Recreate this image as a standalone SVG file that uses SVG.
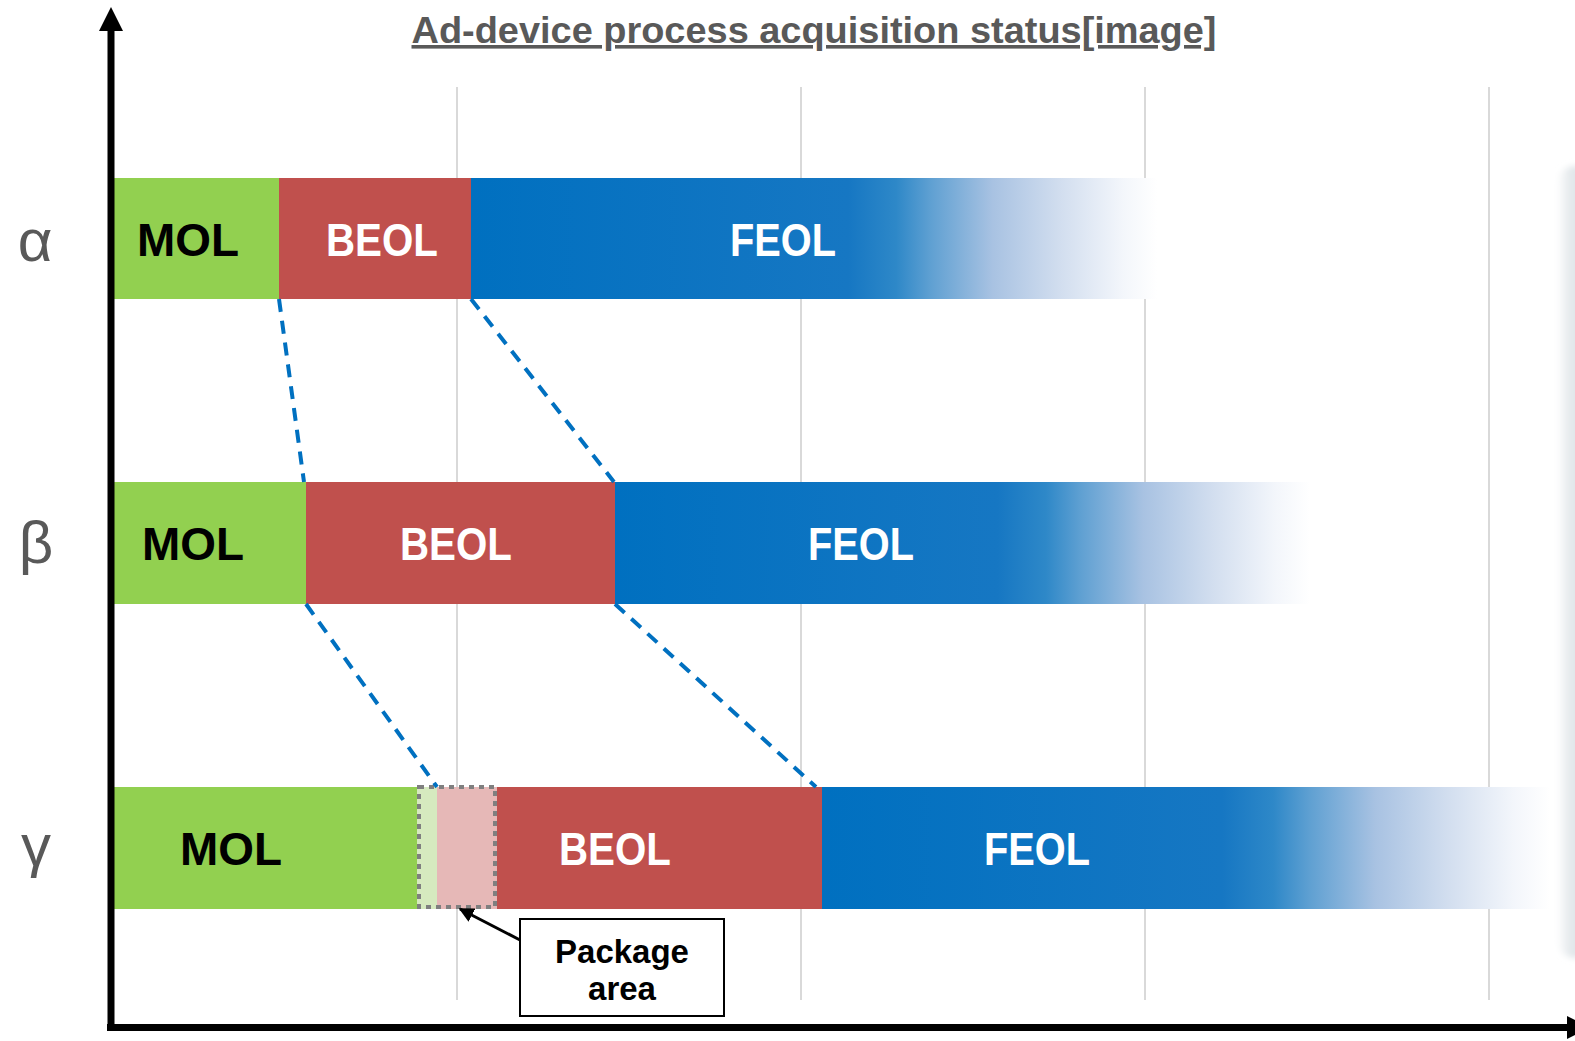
<svg xmlns="http://www.w3.org/2000/svg" width="1575" height="1041" viewBox="0 0 1575 1041">
  <style>
    .grid { stroke: #D9D9D9; stroke-width: 2; }
    .axis { stroke: #000; stroke-width: 7; fill: none; }
    .mol { fill: #92D050; }
    .beol { fill: #C0504D; }
    .lbl { font-family: "Liberation Sans", Arial, sans-serif; font-weight: bold; font-size: 47px; text-anchor: middle; }
    .dark { fill: #000; }
    .light { fill: #FFF; }
    .greek { font-family: "Liberation Sans", Arial, sans-serif; font-size: 60px; fill: #595959; text-anchor: middle; }
    .link { stroke: #0070C0; stroke-width: 4; stroke-dasharray: 13 9; fill: none; }
    .call { font-family: "Liberation Sans", Arial, sans-serif; font-weight: bold; font-size: 33px; text-anchor: middle; }
  </style>
  <defs>
    <linearGradient id="feol" x1="0" y1="0" x2="1" y2="0">
      <stop offset="0" stop-color="#0070C0"/>
      <stop offset="0.55" stop-color="#1677C3"/>
      <stop offset="0.62" stop-color="#2E88C8"/>
      <stop offset="0.67" stop-color="#5FA0D2"/>
      <stop offset="0.76" stop-color="#A8C2E2"/>
      <stop offset="0.86" stop-color="#D2DEEF"/>
      <stop offset="0.95" stop-color="#F3F6FB"/>
      <stop offset="1" stop-color="#FFFFFF"/>
    </linearGradient>
    <linearGradient id="edgeShade" x1="0" y1="0" x2="1" y2="0">
      <stop offset="0" stop-color="#FFFFFF"/>
      <stop offset="0.35" stop-color="#E3E8EB"/>
      <stop offset="1" stop-color="#D8DFE3"/>
    </linearGradient>
    <filter id="soft" x="-50%" y="-10%" width="200%" height="120%">
      <feGaussianBlur stdDeviation="3"/>
    </filter>
    <marker id="arrowHead" viewBox="0 0 10 10" refX="9" refY="5" markerWidth="5" markerHeight="5" orient="auto">
      <path d="M0,0 L10,5 L0,10 z" fill="#000"/>
    </marker>
  </defs>

  <rect width="1575" height="1041" fill="#FFFFFF"/>

  <!-- shaded edge of a panel at the right border -->
  <rect x="1557" y="166" width="40" height="792" rx="18" fill="url(#edgeShade)" filter="url(#soft)"/>

  <!-- vertical grid lines -->
  <g id="grid">
    <line class="grid" x1="457" y1="87" x2="457" y2="1000"/>
    <line class="grid" x1="801" y1="87" x2="801" y2="1000"/>
    <line class="grid" x1="1145" y1="87" x2="1145" y2="1000"/>
    <line class="grid" x1="1489" y1="87" x2="1489" y2="1000"/>
  </g>

  <!-- title -->
  <text id="title" x="814" y="43" font-family="'Liberation Sans', Arial, sans-serif" font-weight="bold" font-size="36" fill="#595959" text-anchor="middle" text-decoration="underline" textLength="805" lengthAdjust="spacingAndGlyphs">Ad-device process acquisition status[image]</text>

  <!-- row labels -->
  <g id="row-labels">
    <text class="greek" x="35" y="261">α</text>
    <text class="greek" x="36" y="563">β</text>
    <text class="greek" x="36" y="866">γ</text>
  </g>

  <!-- row alpha -->
  <g id="alpha-mol">
    <rect class="mol" x="114" y="178" width="165" height="121"/>
    <text class="lbl dark" x="188" y="256" textLength="102" lengthAdjust="spacingAndGlyphs">MOL</text>
  </g>
  <g id="alpha-beol">
    <rect class="beol" x="279" y="178" width="192" height="121"/>
    <text class="lbl light" x="382" y="256" textLength="112" lengthAdjust="spacingAndGlyphs">BEOL</text>
  </g>
  <g id="alpha-feol">
    <rect x="471" y="178" width="686" height="121" fill="url(#feol)"/>
    <text class="lbl light" x="783" y="256" textLength="106" lengthAdjust="spacingAndGlyphs">FEOL</text>
  </g>

  <!-- row beta -->
  <g id="beta-mol">
    <rect class="mol" x="114" y="482" width="192" height="122"/>
    <text class="lbl dark" x="193" y="560" textLength="102" lengthAdjust="spacingAndGlyphs">MOL</text>
  </g>
  <g id="beta-beol">
    <rect class="beol" x="306" y="482" width="309" height="122"/>
    <text class="lbl light" x="456" y="560" textLength="112" lengthAdjust="spacingAndGlyphs">BEOL</text>
  </g>
  <g id="beta-feol">
    <rect x="615" y="482" width="695" height="122" fill="url(#feol)"/>
    <text class="lbl light" x="861" y="560" textLength="106" lengthAdjust="spacingAndGlyphs">FEOL</text>
  </g>

  <!-- row gamma -->
  <g id="gamma-mol">
    <rect class="mol" x="114" y="787" width="303" height="122"/>
    <text class="lbl dark" x="231" y="865" textLength="102" lengthAdjust="spacingAndGlyphs">MOL</text>
  </g>
  <g id="gamma-package">
    <rect x="417" y="787" width="20" height="122" fill="#D6EABF"/>
    <rect x="437" y="787" width="60" height="122" fill="#E6B8B7"/>
    <rect x="419" y="787" width="76" height="120" fill="none" stroke="#7F7F7F" stroke-width="4" stroke-dasharray="5 5"/>
  </g>
  <g id="gamma-beol">
    <rect class="beol" x="497" y="787" width="325" height="122"/>
    <text class="lbl light" x="615" y="865" textLength="112" lengthAdjust="spacingAndGlyphs">BEOL</text>
  </g>
  <g id="gamma-feol">
    <rect x="822" y="787" width="728" height="122" fill="url(#feol)"/>
    <text class="lbl light" x="1037" y="865" textLength="106" lengthAdjust="spacingAndGlyphs">FEOL</text>
  </g>

  <!-- callout -->
  <g id="package-callout">
    <rect x="520" y="919" width="204" height="97" fill="#FFFFFF" stroke="#000" stroke-width="2"/>
    <text class="call" x="622" y="963">Package</text>
    <text class="call" x="622" y="1000">area</text>
  </g>

  <!-- connectors -->
  <g id="connectors">
    <line class="link" x1="279" y1="299" x2="304" y2="482"/>
    <line class="link" x1="471" y1="299" x2="614" y2="482"/>
    <line class="link" x1="306" y1="604" x2="437" y2="787"/>
    <line class="link" x1="615" y1="604" x2="816" y2="787"/>
    <line x1="520" y1="940" x2="460" y2="909" stroke="#000" stroke-width="3" marker-end="url(#arrowHead)"/>
  </g>

  <!-- axes -->
  <g id="axes">
    <line class="axis" x1="111" y1="28" x2="111" y2="1031"/>
    <polygon points="111,7 99,31 123,31" fill="#000"/>
    <line class="axis" x1="107" y1="1027.5" x2="1570" y2="1027.5"/>
    <polygon points="1590,1027.5 1567,1016 1567,1039" fill="#000"/>
  </g>
</svg>
